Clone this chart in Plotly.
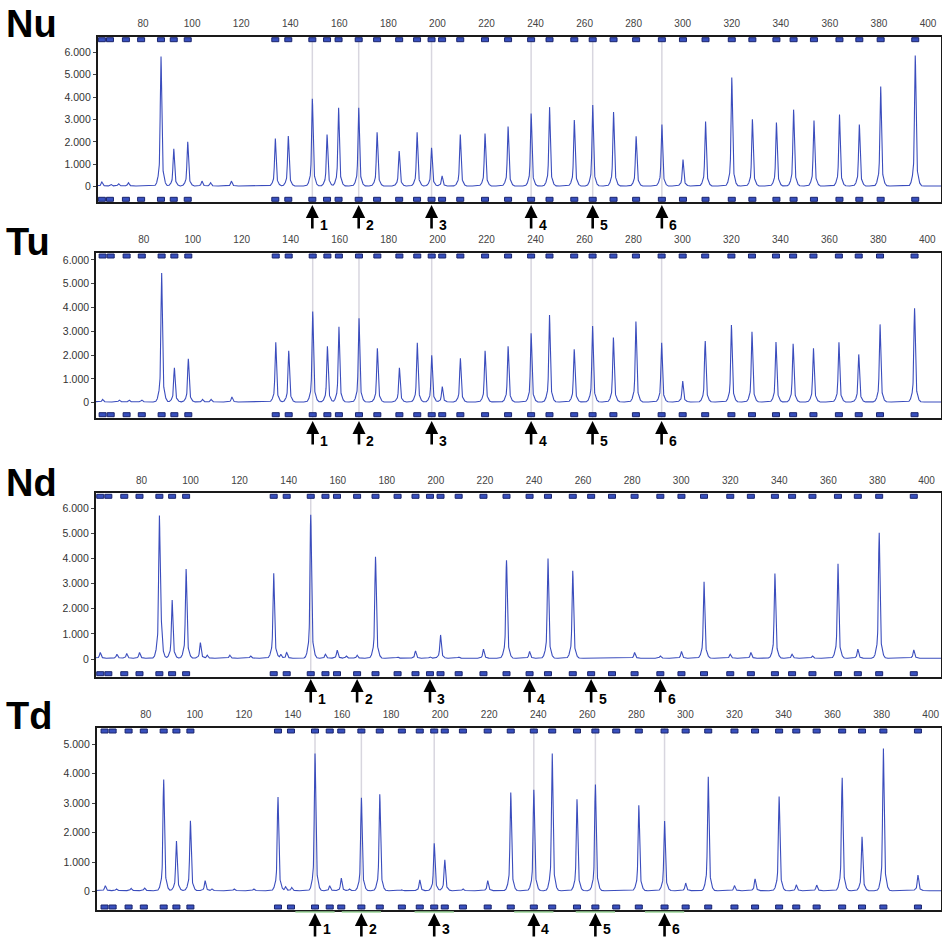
import numpy as np
import plotly.graph_objects as go

# ---------------- data ----------------
bins = [63.2, 66.5, 73.0, 79.2, 87.3, 92.5, 98.2, 133.9, 139.2, 149.0, 155.0, 159.7,
        167.9, 175.4, 184.4, 191.7, 197.6, 201.9, 209.3, 219.4, 228.8, 238.2, 245.7,
        255.8, 263.3, 271.8, 281.0, 291.5, 300.1, 309.3, 320.0, 328.4, 338.2, 345.2,
        353.5, 363.9, 372.0, 380.7, 394.8]
arrow_bins = [149.0, 167.9, 197.6, 238.2, 263.3, 291.5]
arrow_labels = ["1", "2", "3", "4", "5", "6"]
x_ticks = [80, 100, 120, 140, 160, 180, 200, 220, 240, 260, 280, 300, 320, 340, 360, 380, 400]
y_ticks6 = [0, 1000, 2000, 3000, 4000, 5000, 6000]
y_text6 = ["0", "1.000", "2.000", "3.000", "4.000", "5.000", "6.000"]
y_ticks5 = [0, 1000, 2000, 3000, 4000, 5000]
y_text5 = ["0", "1.000", "2.000", "3.000", "4.000", "5.000"]

nu_pos = [63.2, 67.0, 70.0, 74.0, 87.3, 92.5, 98.2, 104.0, 107.5, 116.0, 133.9, 139.2,
          149.0, 155.0, 159.7, 167.9, 175.4, 184.4, 191.7, 197.6, 201.9, 209.3, 219.4,
          228.8, 238.2, 245.7, 255.8, 263.3, 271.8, 281.0, 291.5, 300.1, 309.3, 320.0,
          328.4, 338.2, 345.2, 353.5, 363.9, 372.0, 380.7, 394.8]
nu_h = [180, 70, 100, 150, 5800, 1670, 1980, 220, 150, 220, 2130, 2230,
        3900, 2300, 3500, 3500, 2400, 1560, 2400, 1710, 450, 2300, 2340,
        2660, 3240, 3530, 2950, 3620, 3300, 2220, 2750, 1180, 2890, 4840,
        2980, 2840, 3410, 2930, 3200, 2750, 4450, 5830]

tu_pos = [63.2, 70.0, 74.0, 79.2, 87.3, 92.5, 98.2, 104.0, 107.5, 116.0, 133.9, 139.2,
          149.0, 155.0, 159.7, 167.9, 175.4, 184.4, 191.7, 197.6, 201.9, 209.3, 219.4,
          228.8, 238.2, 245.7, 255.8, 263.3, 271.8, 281.0, 291.5, 300.1, 309.3, 320.0,
          328.4, 338.2, 345.2, 353.5, 363.9, 372.0, 380.7, 394.8]
tu_h = [110, 80, 90, 80, 5440, 1440, 1820, 110, 110, 210, 2520, 2150,
        3800, 2340, 3170, 3530, 2260, 1440, 2500, 1960, 650, 1840, 2150,
        2340, 2890, 3660, 2220, 3200, 2710, 3380, 2500, 880, 2570, 3240,
        2950, 2520, 2450, 2260, 2520, 2000, 3270, 3940]

nd_pos = [63.2, 70.0, 74.0, 79.2, 87.3, 88.0, 92.5, 98.2, 104.0, 106.8, 116.0, 124.5,
          133.9, 136.8, 139.2, 149.0, 155.0, 159.8, 163.5, 167.9, 175.4, 184.4, 191.7,
          197.6, 201.9, 209.3, 219.4, 228.8, 238.2, 245.7, 255.8, 281.0, 291.5, 300.1,
          309.3, 320.0, 328.4, 338.2, 345.2, 353.5, 363.9, 372.0, 380.7, 394.8]
nd_h = [230, 160, 190, 230, 5540, 900, 2320, 3550, 620, 120, 120, 90,
        3390, 160, 230, 5710, 160, 320, 90, 120, 4040, 50, 290,
        60, 930, 50, 360, 3900, 270, 3980, 3480, 230, 90, 270,
        3050, 160, 230, 3370, 160, 90, 3770, 360, 5010, 330]

td_pos = [63.5, 68.0, 74.0, 79.5, 87.3, 92.5, 98.2, 104.2, 107.0, 116.0, 124.0, 133.9,
          137.0, 139.5, 149.0, 155.0, 159.7, 163.0, 167.9, 175.4, 184.4, 191.7, 197.6,
          201.9, 209.3, 219.4, 228.8, 238.2, 245.7, 255.8, 263.3, 281.0, 291.5, 300.1,
          309.3, 320.0, 328.4, 338.2, 345.2, 353.5, 363.9, 372.0, 380.7, 394.8]
td_h = [170, 60, 80, 90, 3780, 1690, 2370, 340, 60, 60, 60, 3180,
        135, 110, 4650, 170, 430, 60, 3160, 3270, 30, 370, 1610,
        1050, 60, 340, 3330, 3420, 4660, 3100, 3610, 2900, 2370, 260,
        3870, 170, 400, 3190, 200, 190, 3840, 1830, 4830, 530]

# ---------------- rendering helpers ----------------
H, W = 938, 942
LINE_BLUE = "#3B4DBD"


def signal(xs, pos, hts, base=30.0):
    y = np.full_like(xs, base)
    for p, h in zip(pos, hts):
        y += h * 0.82 * np.exp(-0.5 * ((xs - p) / 0.27) ** 2)
        y += h * 0.18 * np.exp(-0.5 * ((xs - p) / 0.9) ** 2)
    return y


def py(px):
    return 1 - px / H


panels = [
    dict(name="Nu", pos=nu_pos, h=nu_h, xd=[97.7, 941], yd=[36.7, 202.3],
         xr=[61.5, 405.3], yr=[-696, 6696], yt=(y_ticks6, y_text6),
         tip=205, num=225, label_y=23.5, grey=arrow_bins, green=False),
    dict(name="Tu", pos=tu_pos, h=tu_h, xd=[96.0, 941], yd=[253.0, 417.7],
         xr=[60.5, 405.6], yr=[-631, 6294], yt=(y_ticks6, y_text6),
         tip=421, num=441, label_y=242.4, grey=arrow_bins, green=False),
    dict(name="Nd", pos=nd_pos, h=nd_h, xd=[95.7, 941], yd=[493.3, 676.7],
         xr=[61.35, 405.9], yr=[-705, 6598], yt=(y_ticks6, y_text6),
         tip=679, num=699, label_y=483.4, grey=arrow_bins[:1], green=False),
    dict(name="Td", pos=td_pos, h=td_h, xd=[96.7, 941], yd=[728.0, 910.0],
         xr=[60.0, 404.2], yr=[-624, 5545], yt=(y_ticks5, y_text5),
         tip=913, num=929, label_y=716.0, grey=arrow_bins, green=True),
]

xs = np.arange(58.0, 408.0, 0.04)

fig = go.Figure()
shapes = []
annotations = []
layout = {}

for i, p in enumerate(panels, start=1):
    sx = "" if i == 1 else str(i)
    xa, ya = "x" + sx, "y" + sx
    fig.add_trace(go.Scatter(x=xs, y=signal(xs, p["pos"], p["h"]), mode="lines",
                             line=dict(color=LINE_BLUE, width=1.1), xaxis=xa, yaxis=ya,
                             hoverinfo="skip", showlegend=False))
    layout["xaxis" + sx] = dict(
        domain=[p["xd"][0] / W, p["xd"][1] / W], range=p["xr"], anchor=ya, side="top",
        tickvals=x_ticks, ticks="outside", ticklen=4, tickcolor="rgba(0,0,0,0)",
        tickfont=dict(family="Liberation Sans, Arial", size=10, color="#444"),
        showline=True, mirror=True, linecolor="#1a1a1a", linewidth=1.6,
        showgrid=False, zeroline=False, fixedrange=True)
    layout["yaxis" + sx] = dict(
        domain=[py(p["yd"][1]), py(p["yd"][0])], range=p["yr"], anchor=xa,
        tickvals=p["yt"][0], ticktext=p["yt"][1], ticks="outside", ticklen=3,
        tickcolor="#444", tickwidth=1,
        tickfont=dict(family="Liberation Sans, Arial", size=10.5, color="#333"),
        showline=True, mirror=True, linecolor="#1a1a1a", linewidth=1.6,
        showgrid=False, zeroline=False, fixedrange=True)

    for b in p["grey"]:
        shapes.append(dict(type="line", xref=xa, yref=ya + " domain", x0=b, x1=b,
                           y0=0, y1=1, layer="below",
                           line=dict(color="#D8D6DF", width=1.5)))
    for b in bins:
        for anc, y0, y1 in ((1, -1, -5), (0, 1, 5)):
            shapes.append(dict(type="rect", xref=xa, yref=ya + " domain",
                               xsizemode="pixel", xanchor=b, x0=-3.5, x1=3.5,
                               ysizemode="pixel", yanchor=anc, y0=y0, y1=y1,
                               fillcolor="#3850BE", line=dict(color="#1A246C", width=1)))
    if p["green"]:
        for b in arrow_bins:
            shapes.append(dict(type="line", xref=xa, yref=ya + " domain",
                               x0=b - 8, x1=b + 8, ysizemode="pixel", yanchor=0,
                               y0=-2, y1=-2, line=dict(color="#9CD69A", width=1.3)))
    for b, lab in zip(arrow_bins, arrow_labels):
        annotations.append(dict(x=b, xref=xa, y=py(p["tip"]), yref="paper", text="",
                                showarrow=True, arrowhead=2, arrowsize=1, arrowwidth=2.6,
                                arrowcolor="black", ax=0, ay=25, standoff=0))
        annotations.append(dict(x=b, xref=xa, xshift=11.5, y=py(p["num"]), yref="paper",
                                text="<b>" + lab + "</b>", showarrow=False,
                                font=dict(family="Liberation Sans, Arial", size=14, color="black"),
                                xanchor="center", yanchor="middle"))
    annotations.append(dict(x=4 / W, xref="paper", y=py(p["label_y"]), yref="paper",
                            text="<b>" + p["name"] + "</b>", showarrow=False,
                            xanchor="left", yanchor="middle",
                            font=dict(family="Liberation Sans, Arial", size=38, color="black")))

fig.update_layout(
    width=W, height=H, autosize=False,
    margin=dict(l=0, r=0, t=0, b=0),
    paper_bgcolor="white", plot_bgcolor="white",
    shapes=shapes, annotations=annotations, showlegend=False,
    **layout,
)

fig.write_html("out.html", config={"displayModeBar": False})
